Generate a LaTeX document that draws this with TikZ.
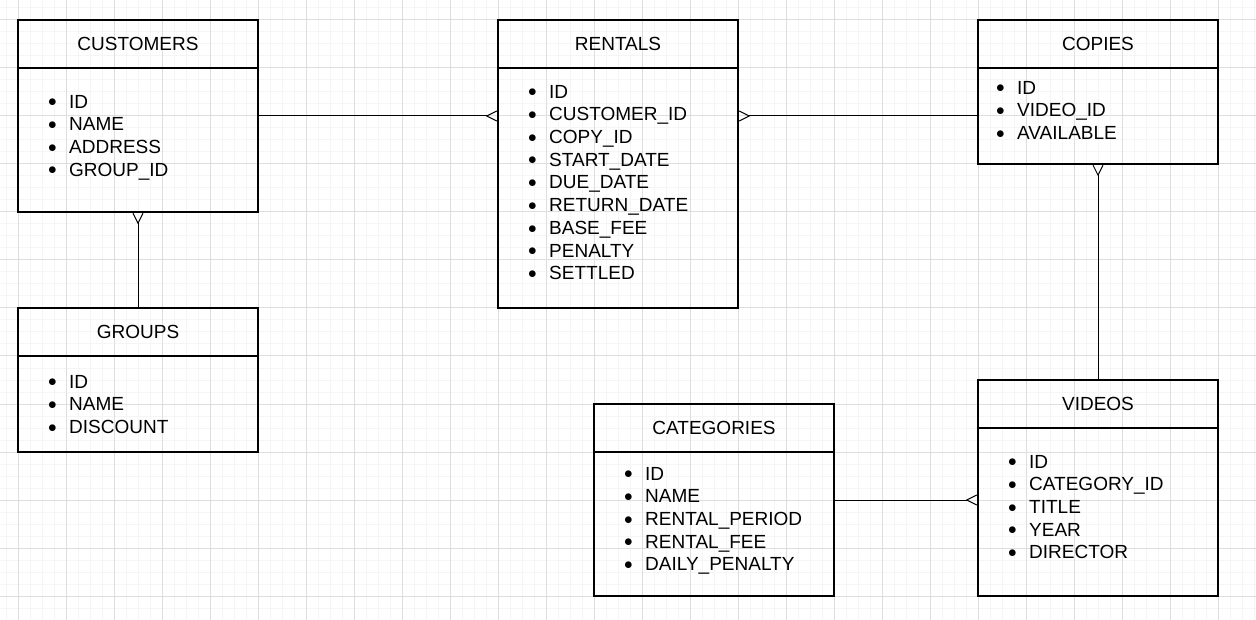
\documentclass[tikz,border=0pt]{standalone}
\usepackage{fontspec}
\setmainfont{Liberation Sans}
\usetikzlibrary{arrows.meta}
\newcommand{\erfield}[1]{\makebox[20pt][l]{\makebox[6.6pt]{\raisebox{1.3pt}{$\bullet$}}}#1}

\begin{document}
\begin{tikzpicture}[x=1pt,y=-1pt,
  font=\fontsize{19}{22.7}\selectfont,
  entity/.style={draw=linecolor,line width=1.3pt,minimum width=240pt,inner sep=0pt},
  title/.style={entity,minimum height=48pt},
  fields/.style={anchor=north west,align=left,inner sep=0pt},
  link/.style={draw=linecolor,line width=1pt},
  tomany/.style={-{Straight Barb[reversed,length=10pt,width=10pt]}}]
\definecolor{linecolor}{RGB}{0,0,0}
\definecolor{minorcolor}{RGB}{245,245,245}
\definecolor{majorcolor}{RGB}{222,222,222}
\useasboundingbox (0,0) rectangle (1256,620);
% background grid
\begin{scope}[y=1pt]
\clip (0,0) rectangle (1256,-620);
\draw[minorcolor,line width=1pt,shift={(6,4)},step=12pt] (-12,-636) grid (1262,8);
\draw[majorcolor,line width=1pt,shift={(18,28)},step=48pt] (-48,-672) grid (1262,20);
\end{scope}
% entities
\node[entity,minimum height=192pt] (cust) at (138,116) {};
\node[title] (custhead) at (138,44) {CUSTOMERS};
\node[fields] (custlist) at (49,94.9) {\erfield{ID}\\\erfield{NAME}\\\erfield{ADDRESS}\\\erfield{GROUP\_ID}};
\node[entity,minimum height=288pt] (rent) at (618,164) {};
\node[title] (renthead) at (618,44) {RENTALS};
\node[fields] (rentlist) at (529,84.9) {\erfield{ID}\\\erfield{CUSTOMER\_ID}\\\erfield{COPY\_ID}\\\erfield{START\_DATE}\\\erfield{DUE\_DATE}\\\erfield{RETURN\_DATE}\\\erfield{BASE\_FEE}\\\erfield{PENALTY}\\\erfield{SETTLED}};
\node[entity,minimum height=144pt] (cop) at (1098,92) {};
\node[title] (cophead) at (1098,44) {COPIES};
\node[fields] (coplist) at (997,80.9) {\erfield{ID}\\\erfield{VIDEO\_ID}\\\erfield{AVAILABLE}};
\node[entity,minimum height=144pt] (grp) at (138,380) {};
\node[title] (grphead) at (138,332) {GROUPS};
\node[fields] (grplist) at (49,374.9) {\erfield{ID}\\\erfield{NAME}\\\erfield{DISCOUNT}};
\node[entity,minimum height=192pt] (cat) at (714,500) {};
\node[title] (cathead) at (714,428) {CATEGORIES};
\node[fields] (catlist) at (625,466.9) {\erfield{ID}\\\erfield{NAME}\\\erfield{RENTAL\_PERIOD}\\\erfield{RENTAL\_FEE}\\\erfield{DAILY\_PENALTY}};
\node[entity,minimum height=216pt] (vid) at (1098,488) {};
\node[title] (vidhead) at (1098,404) {VIDEOS};
\node[fields] (vidlist) at (1009,454.9) {\erfield{ID}\\\erfield{CATEGORY\_ID}\\\erfield{TITLE}\\\erfield{YEAR}\\\erfield{DIRECTOR}};
% relations
\draw[link,tomany] (cust.east) -- (cust.east -| rent.west);
\draw[link,tomany] (cust.east -| cop.west) -- (cust.east -| rent.east);
\draw[link,tomany] (vid.north) -- (cop.south);
\draw[link,tomany] (grp.north) -- (cust.south);
\draw[link,tomany] (cat.east) -- (cat.east -| vid.west);
\end{tikzpicture}
\end{document}
